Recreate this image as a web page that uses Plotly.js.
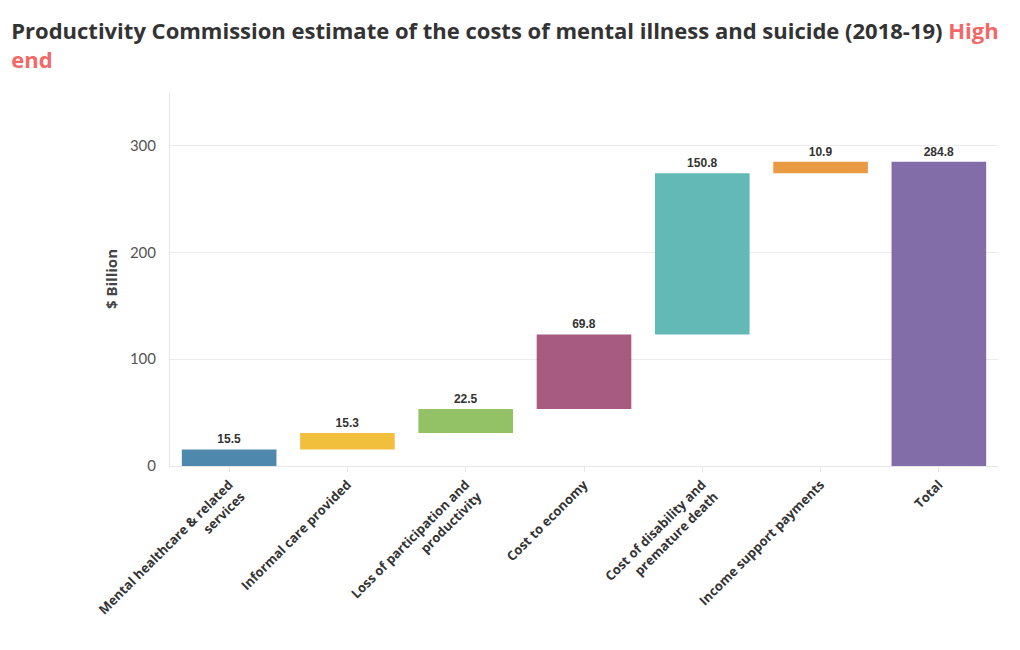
<!DOCTYPE html>
<html>
<head>
<meta charset="utf-8">
<script src="https://cdn.plot.ly/plotly-3.0.1.min.js"></script>
<style>html,body{margin:0;padding:0;background:#fff;}#chart{width:1020px;height:650px;}</style>
</head>
<body>
<div id="chart"></div>
<script>
const categories = [
  "Mental healthcare & related<br>services",
  "Informal care provided",
  "Loss of participation and<br>productivity",
  "Cost to economy",
  "Cost of disability and<br>premature death",
  "Income support payments",
  "Total"
];
const values = [15.5, 15.3, 22.5, 69.8, 150.8, 10.9, 284.8];
const isTotal = [false, false, false, false, false, false, true];
const colors = ["#4682a9", "#f0bc32", "#8dbf5e", "#a2527a", "#5bb5b2", "#e8963a", "#7b65a3"];
const yTicks = [0, 100, 200, 300];

// Bases derived from running sum of the values
const bases = [];
let run = 0;
values.forEach((v, i) => {
  if (isTotal[i]) { bases.push(0); }
  else { bases.push(run); run += v; }
});

const trace = {
  type: "bar",
  x: categories,
  y: values,
  base: bases,
  marker: { color: colors, opacity: 0.95 },
  width: 0.8,
  text: values.map(v => "<b>" + v.toFixed(1) + "</b>"),
  textposition: "outside",
  cliponaxis: false,
  textfont: { family: "Liberation Sans, Arial, sans-serif", size: 12, color: "#333" },
  hoverinfo: "x+y"
};

const layout = {
  width: 1020, height: 650,
  paper_bgcolor: "#fff", plot_bgcolor: "#fff",
  margin: { l: 170, r: 22, t: 92, b: 184 },
  title: {
    text: "<b>Productivity Commission estimate of the costs of mental illness and suicide (2018-19) <span style='color:#f26868'>High<br>end</span></b>",
    x: 0.011, xanchor: "left", y: 0.94, yanchor: "top",
    font: { family: "Open Sans, sans-serif", size: 22, color: "#333" }
  },
  showlegend: false,
  bargap: 0.2,
  xaxis: {
    type: "category",
    tickangle: -45,
    tickfont: { family: "Open Sans, sans-serif", size: 13, color: "#333", weight: "bold" },
    showline: true, linecolor: "#e6e6e6", linewidth: 1,
    ticks: "outside", ticklen: 5, tickcolor: "#e6e6e6",
    showgrid: false
  },
  yaxis: {
    range: [0, 350],
    tickvals: yTicks,
    ticktext: yTicks.map(String),
    tickfont: { family: "Lato, sans-serif", size: 15, color: "#555" },
    showgrid: true, gridcolor: "#ececec",
    showline: true, linecolor: "#e6e6e6",
    zeroline: false,
    ticks: "", ticklabelstandoff: 10,
    title: { text: "<b>$ Billion</b>", font: { family: "Open Sans, sans-serif", size: 15, color: "#444" }, standoff: 8 }
  }
};

Plotly.newPlot("chart", [trace], layout, { displayModeBar: false, staticPlot: true });
</script>
</body>
</html>
